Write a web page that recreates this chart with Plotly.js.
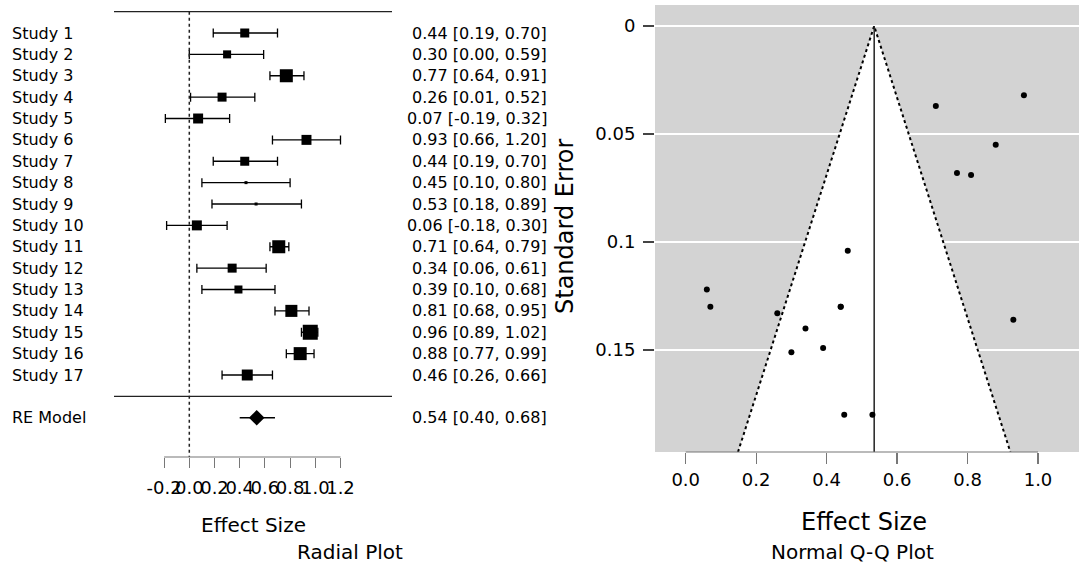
<!DOCTYPE html>
<html>
<head>
<meta charset="utf-8">
<script src="https://cdn.plot.ly/plotly-3.0.1.min.js"></script>
<style>html,body{margin:0;padding:0;background:#fff}#chart{width:1079px;height:564px}</style>
</head>
<body>
<div id="chart"></div>
<script>
// ---------- data ----------
const studies = ['Study 1','Study 2','Study 3','Study 4','Study 5','Study 6','Study 7','Study 8','Study 9',
  'Study 10','Study 11','Study 12','Study 13','Study 14','Study 15','Study 16','Study 17'];
const effect  = [0.44,0.30,0.77,0.26,0.07,0.93,0.44,0.45,0.53,0.06,0.71,0.34,0.39,0.81,0.96,0.88,0.46];
const ciLower = [0.19,0.00,0.64,0.01,-0.19,0.66,0.19,0.10,0.18,-0.18,0.64,0.06,0.10,0.68,0.89,0.77,0.26];
const ciUpper = [0.70,0.59,0.91,0.52,0.32,1.20,0.70,0.80,0.89,0.30,0.79,0.61,0.68,0.95,1.02,0.99,0.66];
const weightPct = [5.75,5.61,6.32,5.75,5.89,5.89,5.75,4.90,4.90,5.89,6.32,5.75,5.61,6.18,6.60,6.32,6.03];
const stdErr  = [0.130,0.151,0.068,0.133,0.130,0.136,0.130,0.180,0.180,0.122,0.037,0.140,0.149,0.069,0.032,0.055,0.104];
const reLabel = 'RE Model';
const reEstimate = 0.535;
const reLower = 0.40;
const reUpper = 0.68;
const forestTicks = [-0.2,0.0,0.2,0.4,0.6,0.8,1.0,1.2];
const funnelXTicks = [0.0,0.2,0.4,0.6,0.8,1.0];
const funnelYTicks = [0,0.05,0.1,0.15];
const funnelYTickText = ['0','0.05','0.1','0.15'];
const funnelMaxSE = 0.1972;

// ---------- helpers ----------
const W = 1079, H = 564;
const px = v => v / W;
const py = v => 1 - v / H;
const FONT = 'DejaVu Sans, Arial, sans-serif';
const k = studies.length;
const rows = studies.map((s, i) => k - i);
const wMin = Math.min(...weightPct), wMax = Math.max(...weightPct);
const boxSizes = weightPct.map(w => 3 + (w - wMin) / (wMax - wMin) * 12);
const fmt = v => v.toFixed(2);

const traces = [];
// forest plot: CIs + boxes
traces.push({
  type: 'scatter', mode: 'markers', xaxis: 'x', yaxis: 'y',
  x: effect, y: rows,
  marker: {symbol: 'square', color: '#000', size: boxSizes, opacity: 1, line: {width: 0}},
  error_x: {type: 'data', symmetric: false,
    array: effect.map((e, i) => ciUpper[i] - e),
    arrayminus: effect.map((e, i) => e - ciLower[i]),
    color: '#000', thickness: 1.3, width: 4.5},
  hoverinfo: 'skip'
});
// RE summary
traces.push({
  type: 'scatter', mode: 'lines', xaxis: 'x', yaxis: 'y',
  x: [reLower, reUpper], y: [-1, -1], line: {color: '#000', width: 1.3}, hoverinfo: 'skip'
});
traces.push({
  type: 'scatter', mode: 'markers', xaxis: 'x', yaxis: 'y',
  x: [reEstimate], y: [-1], marker: {symbol: 'diamond', color: '#000', size: 12, opacity: 1}, hoverinfo: 'skip'
});

// funnel plot
const fl = reEstimate - 1.96 * funnelMaxSE, fr = reEstimate + 1.96 * funnelMaxSE;
traces.push({
  type: 'scatter', mode: 'lines', xaxis: 'x2', yaxis: 'y2',
  x: [fl, reEstimate, fr, fl], y: [funnelMaxSE, 0, funnelMaxSE, funnelMaxSE],
  fill: 'toself', fillcolor: '#ffffff', line: {width: 0}, hoverinfo: 'skip'
});
traces.push({
  type: 'scatter', mode: 'lines', xaxis: 'x2', yaxis: 'y2',
  x: [fl, reEstimate, fr], y: [funnelMaxSE, 0, funnelMaxSE],
  line: {color: '#000', width: 2, dash: 'dot'}, hoverinfo: 'skip'
});
traces.push({
  type: 'scatter', mode: 'lines', xaxis: 'x2', yaxis: 'y2',
  x: [reEstimate, reEstimate], y: [0, funnelMaxSE],
  line: {color: '#222', width: 1.5}, hoverinfo: 'skip'
});
traces.push({
  type: 'scatter', mode: 'markers', xaxis: 'x2', yaxis: 'y2',
  x: effect, y: stdErr, marker: {color: '#000', size: 6, opacity: 1}, hoverinfo: 'skip'
});

const annotations = [];
studies.forEach((s, i) => {
  annotations.push({xref: 'paper', yref: 'y', x: px(10), y: rows[i], text: s, showarrow: false,
    xanchor: 'left', yanchor: 'middle', font: {family: FONT, size: 16, color: '#000'}});
  annotations.push({xref: 'paper', yref: 'y', x: px(549), y: rows[i],
    text: fmt(effect[i]) + ' [' + fmt(ciLower[i]) + ', ' + fmt(ciUpper[i]) + ']', showarrow: false,
    xanchor: 'right', yanchor: 'middle', font: {family: FONT, size: 16, color: '#000'}});
});
annotations.push({xref: 'paper', yref: 'y', x: px(10), y: -1, text: reLabel, showarrow: false,
  xanchor: 'left', yanchor: 'middle', font: {family: FONT, size: 16, color: '#000'}});
annotations.push({xref: 'paper', yref: 'y', x: px(549), y: -1,
  text: fmt(reEstimate) + ' [' + fmt(reLower) + ', ' + fmt(reUpper) + ']', showarrow: false,
  xanchor: 'right', yanchor: 'middle', font: {family: FONT, size: 16, color: '#000'}});
// titles
const title = (t, x, y, size, angle) => annotations.push({xref: 'paper', yref: 'paper', x: px(x), y: py(y),
  text: t, showarrow: false, xanchor: 'center', yanchor: 'middle', textangle: angle || 0,
  font: {family: FONT, size: size, color: '#000'}});
title('Effect Size', 253, 525, 20);
title('Radial Plot', 350, 552, 20);
title('Effect Size', 864, 522, 24);
title('Normal Q-Q Plot', 852, 552, 20);
title('Standard Error', 565, 227, 24, -90);

const shapes = [
  // forest lines
  {type: 'line', xref: 'paper', yref: 'y', x0: px(114), x1: px(392), y0: k + 1, y1: k + 1, line: {color: '#222', width: 1.3}},
  {type: 'line', xref: 'paper', yref: 'y', x0: px(114), x1: px(392), y0: 0, y1: 0, line: {color: '#222', width: 1.3}},
  {type: 'line', xref: 'x', yref: 'y', x0: 0, x1: 0, y0: k + 1, y1: -2.836, line: {color: '#222', width: 1.5, dash: 'dot'}},
  {type: 'line', xref: 'x', yref: 'y domain', x0: forestTicks[0], x1: forestTicks[forestTicks.length - 1], y0: 0, y1: 0, line: {color: '#777', width: 1.2}},
  // funnel background
  {type: 'rect', xref: 'x2 domain', yref: 'y2 domain', x0: 0, x1: 1, y0: 0, y1: 1, layer: 'below', fillcolor: '#d3d3d3', line: {width: 0}},
  {type: 'line', xref: 'x2', yref: 'y2 domain', x0: funnelXTicks[0], x1: funnelXTicks[funnelXTicks.length - 1], y0: 0, y1: 0, line: {color: '#777', width: 1.2}}
];

const layout = {
  width: W, height: H, margin: {l: 0, r: 0, t: 0, b: 0},
  paper_bgcolor: '#fff', plot_bgcolor: 'rgba(0,0,0,0)', showlegend: false,
  font: {family: FONT, color: '#000'},
  xaxis: {domain: [0, px(560)], range: [-189.3 / 126, (560 - 189.3) / 126], anchor: 'y',
    tickmode: 'array', tickvals: forestTicks, ticktext: forestTicks.map(v => v.toFixed(1)),
    ticks: 'outside', ticklen: 10, tickcolor: '#777', tickwidth: 1.2, tickangle: 0, ticklabelstandoff: 4,
    showline: false, showgrid: false, zeroline: false, tickfont: {family: FONT, size: 18, color: '#000'}},
  yaxis: {domain: [py(457), 1], range: [-2.836, 18.544], anchor: 'x', visible: false, showgrid: false, zeroline: false},
  xaxis2: {domain: [px(655), 1], range: [(655 - 685.7) / 352.3, (1079 - 685.7) / 352.3], anchor: 'y2',
    tickmode: 'array', tickvals: funnelXTicks, ticktext: funnelXTicks.map(v => v.toFixed(1)),
    ticks: 'outside', ticklen: 11, tickcolor: '#777', tickwidth: 1.2, tickangle: 0,
    showline: false, showgrid: false, zeroline: false, tickfont: {family: FONT, size: 18, color: '#000'}},
  yaxis2: {domain: [py(452), py(5)], range: [funnelMaxSE, -21 / 2160], anchor: 'x2',
    tickmode: 'array', tickvals: funnelYTicks, ticktext: funnelYTickText,
    ticks: 'outside', ticklen: 11, tickcolor: '#444', tickwidth: 1.2, ticklabelstandoff: 4,
    showline: false, showgrid: true, gridcolor: '#ffffff', gridwidth: 1.5, zeroline: false,
    tickfont: {family: FONT, size: 18, color: '#000'}},
  shapes: shapes,
  annotations: annotations
};

Plotly.newPlot('chart', traces, layout, {displayModeBar: false, staticPlot: true});
</script>
</body>
</html>
